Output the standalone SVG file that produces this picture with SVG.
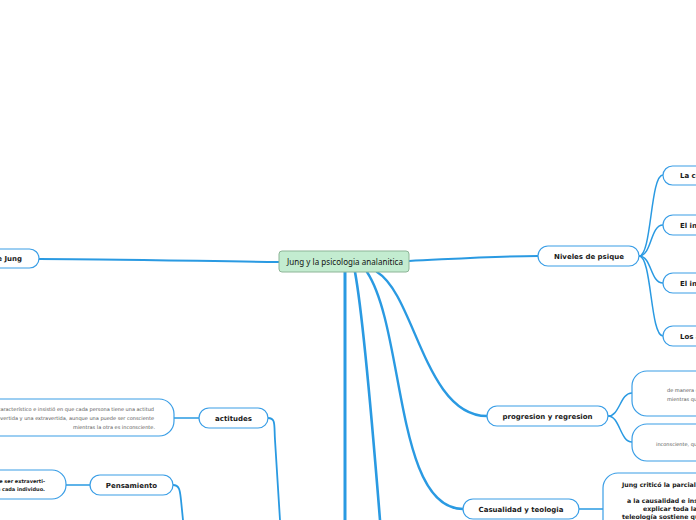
<svg xmlns="http://www.w3.org/2000/svg" width="696" height="520" viewBox="0 0 696 520">
<style>
.n{fill:#fff;stroke:#3a9ee6;stroke-width:1.2}
.c{fill:none;stroke:#2a9ae2;stroke-linecap:round}
.t{font-family:"DejaVu Sans",Verdana,sans-serif;font-weight:bold;font-size:7px;fill:#1a1a1a}
.tb{font-family:"DejaVu Sans",Verdana,sans-serif;font-weight:bold;font-size:6.2px;fill:#1a1a1a}
.s{font-family:"DejaVu Sans",Verdana,sans-serif;font-size:5px;fill:#555}
.sb{font-family:"DejaVu Sans",Verdana,sans-serif;font-weight:bold;font-size:5px;fill:#1a1a1a}
.m{text-anchor:middle}
.e{text-anchor:end}
</style>
<rect width="696" height="520" fill="#fff"/>
<g id="connectors">
<path class="c" stroke-width="2" d="M409,261 C470,258 500,256 538,256"/>
<path class="c" stroke-width="2" d="M279,262 C200,261 100,259 39,259"/>
<path class="c" stroke-width="3" d="M345,272 L345,520"/>
<path class="c" stroke-width="2.6" d="M355,272 C362,310 372,420 380,520"/>
<path class="c" stroke-width="2.4" d="M367,272 C405,330 395,509 463,509"/>
<path class="c" stroke-width="2.4" d="M377,272 C415,295 425,416 487,416"/>
<path class="c" stroke-width="1.5" d="M639,256 C652,256 650,175 663,175"/>
<path class="c" stroke-width="1.5" d="M639,256 C652,256 650,225 663,225"/>
<path class="c" stroke-width="1.5" d="M639,256 C652,256 650,283 663,283"/>
<path class="c" stroke-width="1.5" d="M639,256 C652,256 650,336 663,336"/>
<path class="c" stroke-width="1.5" d="M608,416 C620,416 620,393 632,393"/>
<path class="c" stroke-width="1.5" d="M608,416 C620,416 620,442 632,442"/>
<path class="c" stroke-width="1.5" d="M579,509 L603,509"/>
<path class="c" stroke-width="1.5" d="M199,418 L174,418"/>
<path class="c" stroke-width="1.5" d="M90,485 L66,485"/>
<path class="c" stroke-width="1.8" d="M268,418 C276,418 274,425 275,440 L280,520"/>
<path class="c" stroke-width="1.8" d="M173,485 C180,485 180,492 181,500 L183,520"/>
</g>
<g id="center">
<rect x="279" y="251" width="130" height="21" rx="3" fill="#c3ecd0" stroke="#8db597" stroke-width="1"/>
<text x="345" y="264.5" class="m" font-family="'Noto Sans','Open Sans',sans-serif" font-size="8" fill="#111" textLength="116">Jung y la psicologia analanitica</text>
</g>
<g id="node-jung">
<rect class="n" x="-60" y="249" width="99" height="19" rx="9.5"/>
<text x="22" y="261" class="t e">de Jung</text>
</g>
<g id="node-niveles">
<rect class="n" x="538" y="246" width="101" height="20" rx="10"/>
<text x="589" y="258.5" class="t m">Niveles de psique</text>
</g>
<g id="node-conciencia">
<rect class="n" x="663" y="166" width="80" height="19" rx="9.5"/>
<text x="680" y="178" class="t">La conciencia</text>
</g>
<g id="node-inc-personal">
<rect class="n" x="663" y="215" width="80" height="20" rx="10"/>
<text x="680" y="227.5" class="t">El inconsciente personal</text>
</g>
<g id="node-inc-colectivo">
<rect class="n" x="663" y="273" width="80" height="20" rx="10"/>
<text x="680" y="285.5" class="t">El inconsciente colectivo</text>
</g>
<g id="node-arquetipos">
<rect class="n" x="663" y="326" width="80" height="20" rx="10"/>
<text x="680" y="338.5" class="t">Los arquetipos</text>
</g>
<g id="node-progresion">
<rect class="n" x="487" y="406" width="121" height="20" rx="10"/>
<text x="547.5" y="418.5" class="t m">progresion y regresion</text>
</g>
<g id="node-prog-1">
<rect class="n" x="632" y="371" width="110" height="45" rx="15"/>
<text x="667" y="391.8" class="s">de manera que</text>
<text x="667" y="400.8" class="s">mientras que</text>
</g>
<g id="node-prog-2">
<rect class="n" x="632" y="424" width="110" height="37" rx="15"/>
<text x="656" y="445.8" class="s">inconsciente, que</text>
</g>
<g id="node-casualidad">
<rect class="n" x="463" y="499" width="116" height="20" rx="10"/>
<text x="521" y="511.5" class="t m">Casualidad y teologia</text>
</g>
<g id="node-casualidad-text">
<rect class="n" x="603" y="473" width="120" height="80" rx="15"/>
<text x="622" y="486.5" class="tb">Jung criticó la parcialidad</text>
<text x="627" y="503.2" class="tb">a la causalidad e insistió</text>
<text x="643" y="511" class="tb">explicar toda la</text>
<text x="622" y="519" class="tb">teleología sostiene que</text>
</g>
<g id="node-actitudes">
<rect class="n" x="199" y="408" width="69" height="20" rx="10"/>
<text x="233.5" y="420.5" class="t m">actitudes</text>
</g>
<g id="node-actitudes-text">
<rect class="n" x="-100" y="399" width="274" height="37" rx="15"/>
<text x="154" y="410.8" class="s e">característico e insistió en que cada persona tiene una actitud</text>
<text x="154" y="419.8" class="s e">introvertida y una extravertida, aunque una puede ser consciente</text>
<text x="155" y="428.8" class="s e">mientras la otra es inconsciente.</text>
</g>
<g id="node-pensamiento">
<rect class="n" x="90" y="475" width="83" height="20" rx="10"/>
<text x="131.5" y="487.5" class="t m">Pensamiento</text>
</g>
<g id="node-pensamiento-text">
<rect class="n" x="-100" y="470" width="166" height="29" rx="14"/>
<text x="45" y="482.8" class="sb e">puede ser extraverti-</text>
<text x="45" y="490.8" class="sb e">do o introvertido en cada individuo.</text>
</g>
</svg>
